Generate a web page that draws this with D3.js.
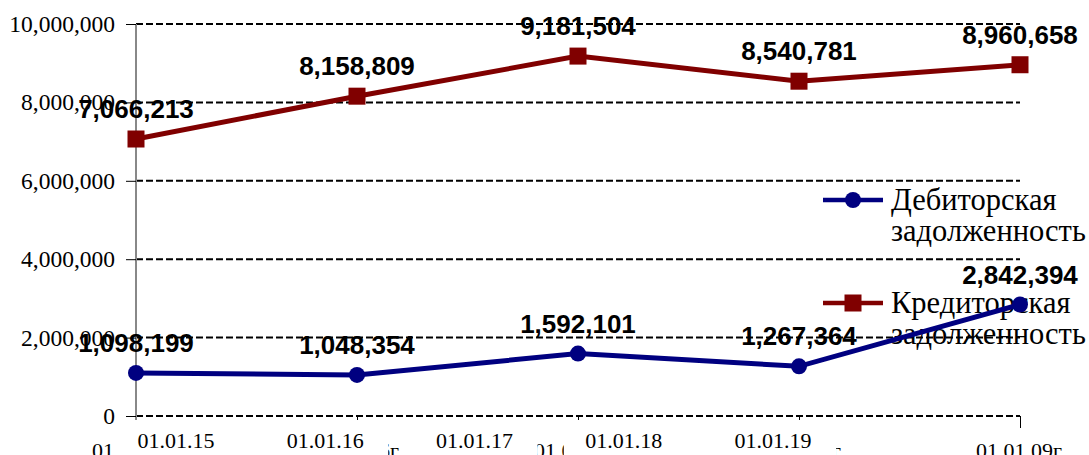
<!DOCTYPE html>
<html><head><meta charset="utf-8">
<script src="https://cdn.jsdelivr.net/npm/d3@7"></script>
<style>body{margin:0;background:#fff}svg{display:block}</style>
</head><body>
<svg id="c" width="1089" height="455"></svg>
<script>
const categories = ["01.01.05г.", "01.01.06г.", "01.01.07г.", "01.01.08г.", "01.01.09г."];
const overlayLabels = ["01.01.15", "01.01.16", "01.01.17", "01.01.18", "01.01.19"];
const debit = [1098199, 1048354, 1592101, 1267364, 2842394];
const credit = [7066213, 8158809, 9181504, 8540781, 8960658];
const yTicks = [0, 2000000, 4000000, 6000000, 8000000, 10000000];
const seriesNames = ["Дебиторская задолженность", "Кредиторская задолженность"];

const svg = d3.select("#c");
const serif = "Liberation Serif, Times New Roman, serif";
const sans = "Liberation Sans, Arial, sans-serif";
const x = d3.scalePoint().domain(categories).range([136, 1020]);
const y = d3.scaleLinear().domain([0, 10000000]).range([416, 24]);
const fmt = d3.format(",");

// gridlines
svg.append("g").selectAll("line").data(yTicks).join("line")
  .attr("x1", 136).attr("x2", 1020).attr("y1", d => y(d)).attr("y2", d => y(d))
  .attr("stroke", "#000").attr("stroke-width", 2).attr("stroke-dasharray", "7,3");

// x axis ticks
const xa = svg.append("g").attr("transform", "translate(0,416)")
  .call(d3.axisBottom(x).tickSize(4).tickPadding(24));
xa.select(".domain").remove();
xa.selectAll("line").attr("stroke", "#000").attr("stroke-width", 1);
xa.selectAll(".tick").filter((d, i) => i === categories.length - 1).select("line").attr("y2", 12);
xa.selectAll("text").style("font-family", serif).style("font-size", "22px").attr("fill", "#000")
  .attr("dy", "0").attr("y", 42);

// overlay labels with white boxes
const xo = d3.scalePoint().domain(overlayLabels).range([176, 773]);
const og = svg.append("g");
og.selectAll("rect").data(overlayLabels).join("rect")
  .attr("x", d => xo(d) - 60).attr("y", 424).attr("width", 123).attr("height", 40).attr("fill", "#fff");
og.selectAll("text").data(overlayLabels).join("text")
  .attr("x", d => xo(d)).attr("y", 448).attr("text-anchor", "middle")
  .style("font-family", serif).style("font-size", "22px").attr("fill", "#000").text(d => d);

// y axis
const ya = svg.append("g").attr("transform", "translate(136,0)")
  .call(d3.axisLeft(y).tickValues(yTicks).tickFormat(fmt).tickSize(10).tickPadding(11));
ya.select(".domain").attr("stroke", "#888").attr("stroke-width", 2).attr("d", "M0,24V420");
ya.selectAll("line").attr("stroke", "#000");
ya.selectAll("text").style("font-family", serif).style("font-size", "23.5px").attr("fill", "#000");

// legend
const colors = ["#000080", "#800000"];
const lg = svg.append("g");
[200, 303].forEach((ly, i) => {
  lg.append("line").attr("x1", 823).attr("x2", 883).attr("y1", ly).attr("y2", ly)
    .attr("stroke", colors[i]).attr("stroke-width", 4.5);
  if (i === 0) lg.append("circle").attr("cx", 853).attr("cy", ly).attr("r", 8).attr("fill", colors[i]);
  else lg.append("rect").attr("x", 844.5).attr("y", ly - 8.5).attr("width", 17).attr("height", 17).attr("fill", colors[i]);
  const words = seriesNames[i].split(" ");
  words.forEach((w, j) => {
    lg.append("text").attr("x", 891).attr("y", ly + 10 + j * 31)
      .style("font-family", serif).style("font-size", "30.5px").attr("fill", "#000").text(w);
  });
});

// series
const line = d3.line().x((d, i) => x(categories[i])).y(d => y(d));
[[debit, 0], [credit, 1]].forEach(([vals, i]) => {
  svg.append("path").datum(vals).attr("d", line).attr("fill", "none")
    .attr("stroke", colors[i]).attr("stroke-width", 5);
  const g = svg.append("g");
  if (i === 0) g.selectAll("circle").data(vals).join("circle")
    .attr("cx", (d, k) => x(categories[k])).attr("cy", d => y(d)).attr("r", 8).attr("fill", colors[i]);
  else g.selectAll("rect").data(vals).join("rect")
    .attr("x", (d, k) => x(categories[k]) - 8.5).attr("y", d => y(d) - 8.5)
    .attr("width", 17).attr("height", 17).attr("fill", colors[i]);
  svg.append("g").selectAll("text").data(vals).join("text")
    .attr("x", (d, k) => x(categories[k])).attr("y", d => y(d) - 21)
    .attr("text-anchor", "middle").style("font-family", sans).style("font-weight", "bold")
    .style("font-size", "26px").attr("fill", "#000").text(d => fmt(d));
});
</script>
</body></html>
